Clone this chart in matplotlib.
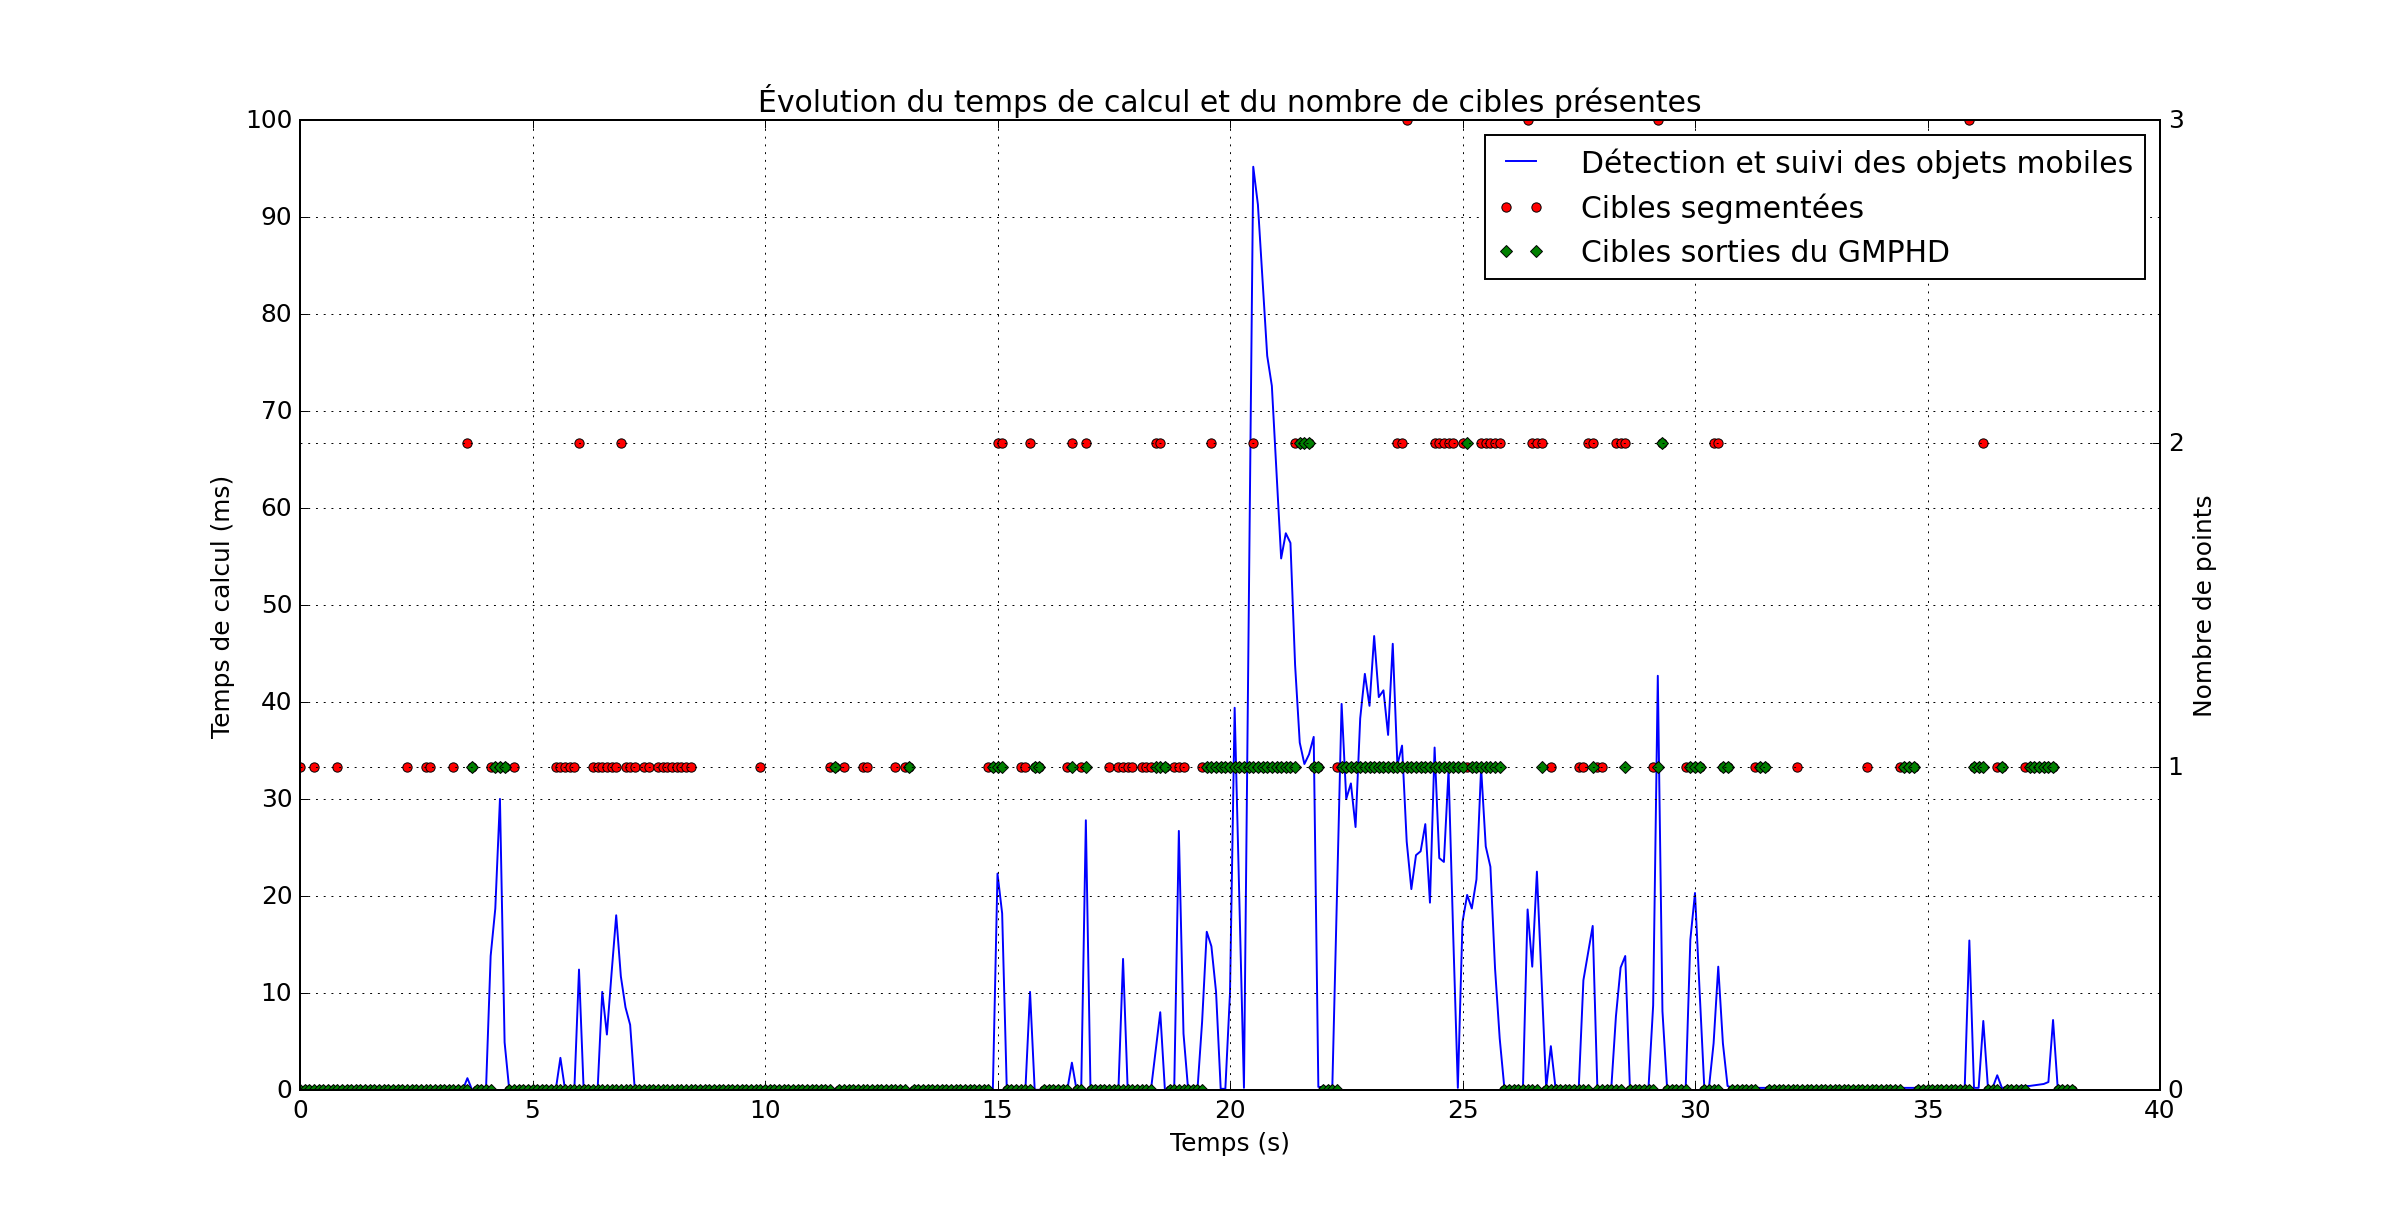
import numpy as np
import matplotlib
matplotlib.use("Agg")
import matplotlib.pyplot as plt

plt.style.use('classic')
plt.rcParams['font.size'] = 12.9

# ---------------- data ----------------
# Frame times (s) at which target counts were recorded
frame_t = np.round(np.arange(0.0, 38.15, 0.1), 1)

# Computation time of the detection/tracking (ms): vertices of the curve
blue_t = [0.0, 3.5, 3.6, 3.7, 4.0, 4.1, 4.2, 4.3, 4.4, 4.5,
          5.5, 5.6, 5.7, 5.9, 6.0, 6.1, 6.4, 6.5, 6.6, 6.7, 6.8, 6.9, 7.0, 7.1, 7.2,
          14.9, 15.0, 15.1, 15.2, 15.6, 15.7, 15.8, 16.5, 16.6, 16.7, 16.8, 16.9, 17.0,
          17.6, 17.7, 17.8, 18.3, 18.5, 18.6, 18.8, 18.9, 19.0, 19.1,
          19.3, 19.4, 19.5, 19.6, 19.7, 19.8, 19.9, 20.0, 20.1, 20.3,
          20.5, 20.6, 20.7, 20.8, 20.9, 21.0, 21.1, 21.2, 21.3, 21.4, 21.5, 21.6, 21.7, 21.8, 21.9,
          22.2, 22.4, 22.5, 22.6, 22.7, 22.8, 22.9, 23.0, 23.1, 23.2, 23.3, 23.4, 23.5,
          23.6, 23.7, 23.8, 23.9, 24.0, 24.1, 24.2, 24.3, 24.4, 24.5, 24.6, 24.7, 24.8,
          24.9, 25.0, 25.1, 25.2, 25.3, 25.4, 25.5, 25.6, 25.7, 25.8, 25.9,
          26.3, 26.4, 26.5, 26.6, 26.8, 26.9, 27.0,
          27.5, 27.6, 27.7, 27.8, 27.9, 28.2, 28.3, 28.4, 28.5, 28.6,
          29.0, 29.1, 29.2, 29.3, 29.4, 29.8, 29.9, 30.0, 30.1, 30.2, 30.3, 30.4, 30.5, 30.6, 30.7, 30.8,
          35.8, 35.9, 36.0, 36.1, 36.2, 36.3, 36.4, 36.5, 36.6, 37.2, 37.5, 37.6, 37.7, 37.8]
blue_ms = [0, 0, 1.2, 0, 0, 13.8, 18.7, 30.0, 4.9, 0,
           0, 3.3, 0, 0, 12.4, 0, 0, 10.1, 5.7, 12.0, 18.0, 11.7, 8.5, 6.7, 0,
           0, 22.3, 18.2, 0, 0, 10.1, 0, 0, 2.8, 0, 0, 27.8, 0,
           0, 13.5, 0, 0, 8.0, 0, 0, 26.7, 5.8, 0,
           0, 7.0, 16.3, 14.8, 10.1, 0.1, 0.1, 10.0, 39.4, 0.2,
           95.2, 91.3, 83.5, 75.7, 72.6, 63.7, 54.8, 57.4, 56.4, 43.8, 35.8, 33.6, 34.6, 36.4, 0.3,
           0.2, 39.8, 30.0, 31.6, 27.1, 38.3, 42.9, 39.6, 46.8, 40.5, 41.2, 36.6, 46.0,
           33.5, 35.5, 25.6, 20.7, 24.2, 24.6, 27.4, 19.3, 35.3, 23.9, 23.5, 33.0, 16.0,
           0.2, 17.3, 20.1, 18.7, 21.7, 33.2, 25.1, 23.0, 12.5, 5.3, 0.2,
           0.2, 18.6, 12.7, 22.5, 0.2, 4.5, 0.2,
           0.2, 11.3, 14.1, 16.9, 0.2, 0.2, 7.6, 12.6, 13.8, 0.2,
           0.2, 8.7, 42.7, 8.1, 0.2, 0.2, 15.5, 20.3, 10.1, 0.2, 0.2, 4.8, 12.7, 4.8, 0.4, 0.2,
           0.2, 15.4, 0.2, 0.2, 7.1, 0.2, 0.2, 1.5, 0.2, 0.4, 0.6, 0.8, 7.2, 0.2]

# Segmented targets: frame times with 1, 2 and 3 targets (others: 0)
red_1 = [0.0, 0.3, 0.8, 2.3, 2.7, 2.8, 3.3, 3.7, 4.1, 4.2, 4.3, 4.4, 4.6,
         5.5, 5.6, 5.7, 5.8, 5.9, 6.3, 6.4, 6.5, 6.6, 6.7, 6.8, 7.0, 7.1, 7.2, 7.4, 7.5,
         7.7, 7.8, 7.9, 8.0, 8.1, 8.2, 8.3, 8.4, 9.9,
         11.4, 11.5, 11.7, 12.1, 12.2, 12.8, 13.0, 13.1, 14.8, 14.9, 15.5, 15.6, 15.8, 15.9,
         16.5, 16.8, 17.4, 17.6, 17.7, 17.8, 17.9, 18.1, 18.2, 18.3, 18.6, 18.8, 18.9, 19.0,
         19.4, 19.5, 19.7, 19.8, 19.9, 20.0, 20.1, 20.2, 20.3, 20.4,
         20.6, 20.7, 20.8, 20.9, 21.0, 21.1, 21.2, 21.3, 21.8, 21.9,
         22.3, 22.4, 22.5, 22.6, 22.7, 22.8, 22.9, 23.0, 23.1, 23.2, 23.3, 23.4, 23.5,
         23.9, 24.0, 24.1, 24.2, 24.3, 24.9, 25.1, 25.2, 25.3,
         26.9, 27.5, 27.6, 27.9, 28.0, 29.1, 29.8, 29.9, 30.0, 30.1, 30.6, 30.7,
         31.3, 31.4, 31.5, 32.2, 33.7, 34.4, 34.5, 34.6, 34.7, 36.0, 36.1, 36.5, 36.6,
         37.1, 37.2, 37.3, 37.4, 37.5, 37.6, 37.7]
red_2 = [3.6, 6.0, 6.9, 15.0, 15.1, 15.7, 16.6, 16.9, 18.4, 18.5, 19.6, 20.5,
         21.4, 21.5, 21.6, 21.7, 23.6, 23.7, 24.4, 24.5, 24.6, 24.7, 24.8, 25.0,
         25.4, 25.5, 25.6, 25.7, 25.8, 26.5, 26.6, 26.7, 27.7, 27.8,
         28.3, 28.4, 28.5, 29.3, 30.4, 30.5, 36.2]
red_3 = [23.8, 26.4, 29.2, 35.9]

# GMPHD output targets: frame times with 1 and 2 targets (others: 0)
green_1 = [3.7, 4.2, 4.3, 4.4, 11.5, 13.1, 14.9, 15.0, 15.1, 15.8, 15.9, 16.6, 16.9,
           18.4, 18.5, 18.6, 19.5, 19.6, 19.7, 19.8, 19.9, 20.0, 20.1, 20.2, 20.3, 20.4,
           20.5, 20.6, 20.7, 20.8, 20.9, 21.0, 21.1, 21.2, 21.3, 21.4, 21.8, 21.9,
           22.4, 22.5, 22.6, 22.7, 22.8, 22.9, 23.0, 23.1, 23.2, 23.3, 23.4, 23.5,
           23.6, 23.7, 23.8, 23.9, 24.0, 24.1, 24.2, 24.3, 24.4, 24.5, 24.6, 24.7,
           24.8, 24.9, 25.0, 25.2, 25.3, 25.4, 25.5, 25.6, 25.7, 25.8,
           26.7, 27.8, 28.5, 29.2, 29.9, 30.0, 30.1, 30.6, 30.7, 31.4, 31.5,
           34.5, 34.6, 34.7, 36.0, 36.1, 36.2, 36.6, 37.2, 37.3, 37.4, 37.5, 37.6, 37.7]
green_2 = [21.5, 21.6, 21.7, 25.1, 29.3]

labels = ["Détection et suivi des objets mobiles", "Cibles segmentées",
          "Cibles sorties du GMPHD"]

assert len(blue_t) == len(blue_ms)

# ---------------- build counts ----------------
def frame_index(times):
    return np.rint(np.asarray(times) * 10).astype(int)

red = np.zeros(len(frame_t))
red[frame_index(red_1)] = 1
red[frame_index(red_2)] = 2
red[frame_index(red_3)] = 3
green = np.zeros(len(frame_t))
green[frame_index(green_1)] = 1
green[frame_index(green_2)] = 2

# ---------------- plot ----------------
DPI = 139.3
fig = plt.figure(figsize=(2400 / DPI, 1212 / DPI), dpi=DPI)
ax1 = fig.add_subplot(111)
l1, = ax1.plot(blue_t, blue_ms, 'b-', lw=1.0, label=labels[0])
ax1.set_xlim(0, 40)
ax1.set_ylim(0, 100)
ax1.set_yticks(np.arange(0, 101, 10))
ax1.set_xlabel("Temps (s)")
ax1.set_ylabel("Temps de calcul (ms)")
ax1.grid(True)
ax1.set_title("Évolution du temps de calcul et du nombre de cibles présentes")

ax2 = ax1.twinx()
l2, = ax2.plot(frame_t, red, 'ro', ms=4.8, mew=0.5, label=labels[1])
l3, = ax2.plot(frame_t, green, 'gD', ms=4.4, mew=0.5, label=labels[2])
ax2.set_ylim(0, 3)
ax2.set_yticks([0, 1, 2, 3])
ax2.set_xlim(0, 40)
ax2.set_ylabel("Nombre de points")
ax2.yaxis.grid(True)

ax2.legend([l1, l2, l3], labels, loc='upper right', numpoints=2,
           handlelength=1.6, handletextpad=1.2)

fig.savefig("out.png", dpi=DPI)
